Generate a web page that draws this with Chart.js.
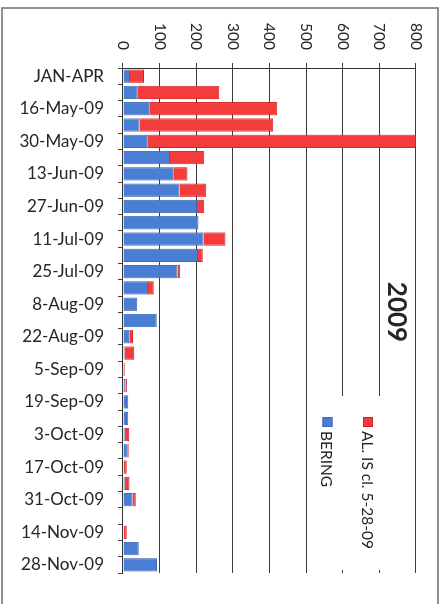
<!DOCTYPE html>
<html>
<head>
<meta charset="utf-8">
<title>2009</title>
<script src="https://cdn.jsdelivr.net/npm/chart.js@4/dist/chart.umd.min.js"></script>
<style>
  html, body { margin: 0; padding: 0; background: #ffffff; overflow: hidden; }
  body { width: 444px; height: 604px; position: relative; }
  /* the column chart is laid out on its side: a 604x444 canvas turned a quarter turn clockwise */
  #chart {
    position: absolute; left: 0; top: 0;
    width: 604px; height: 444px;
    transform-origin: 0 0;
    transform: translate(444px, 0) rotate(90deg);
  }
</style>
</head>
<body>
<canvas id="chart" width="604" height="444"></canvas>
<script>
// weekly periods, 2009
const categories = [
  'JAN-APR', '9-May-09', '16-May-09', '23-May-09', '30-May-09', '6-Jun-09',
  '13-Jun-09', '20-Jun-09', '27-Jun-09', '4-Jul-09', '11-Jul-09', '18-Jul-09',
  '25-Jul-09', '1-Aug-09', '8-Aug-09', '15-Aug-09', '22-Aug-09', '29-Aug-09',
  '5-Sep-09', '12-Sep-09', '19-Sep-09', '26-Sep-09', '3-Oct-09', '10-Oct-09',
  '17-Oct-09', '24-Oct-09', '31-Oct-09', '7-Nov-09', '14-Nov-09', '21-Nov-09',
  '28-Nov-09'
];

const beringCounts = [
  19, 40, 72, 45, 66, 128,
  137, 154, 202, 206, 220, 205,
  149, 68, 39, 92, 17, 4,
  0, 7, 11, 11, 5, 13,
  2, 5, 26, 0, 2, 43,
  93
];

const alIsClosedCounts = [
  38, 223, 349, 365, 734, 94,
  39, 73, 20, 0, 60, 13,
  7, 16, 0, 0, 10, 27,
  5, 4, 3, 3, 12, 3,
  8, 13, 9, 0, 8, 0,
  0
];

const seriesNames = ['BERING', 'AL. IS cl. 5-28-09'];
const chartTitle = '2009';
const valueMax = 800;
const valueStep = 100;

const BLUE = '#4a7ed5';
const BLUE_EDGE = '#3b68b9';
const RED = '#f43c3c';
const RED_EDGE = '#d21f1f';
const INK = '#262626';

// frame, title and legend box drawn over the plot
const decorations = {
  id: 'decorations',
  afterDraw(chart) {
    const ctx = chart.ctx;
    ctx.save();

    // outer frame
    ctx.strokeStyle = '#6e6e6e';
    ctx.lineWidth = 1.5;
    ctx.strokeRect(8, 6, 620, 436);

    // title
    ctx.fillStyle = INK;
    ctx.font = 'bold 26px Lato, "Open Sans", sans-serif';
    ctx.textAlign = 'center';
    ctx.textBaseline = 'middle';
    ctx.fillText(chartTitle, 312, 48);

    // legend box
    ctx.fillStyle = '#ffffff';
    ctx.fillRect(396, 52, 174, 82);

    const entries = [
      { text: chart.data.datasets[1].label, fill: RED, edge: RED_EDGE, v: 76 },
      { text: chart.data.datasets[0].label, fill: BLUE, edge: BLUE_EDGE, v: 116.5 }
    ];
    ctx.font = '15.5px Lato, "Open Sans", sans-serif';
    ctx.textAlign = 'left';
    entries.forEach(e => {
      ctx.fillStyle = e.fill;
      ctx.fillRect(417, e.v - 5, 10, 10);
      ctx.strokeStyle = e.edge;
      ctx.lineWidth = 1;
      ctx.strokeRect(417.5, e.v - 4.5, 9, 9);
      ctx.fillStyle = INK;
      ctx.fillText(e.text, 431, e.v + 1);
    });

    ctx.restore();
  }
};

new Chart(document.getElementById('chart'), {
  type: 'bar',
  data: {
    labels: categories,
    datasets: [
      {
        label: seriesNames[0],
        data: beringCounts,
        backgroundColor: BLUE,
        borderColor: BLUE_EDGE,
        borderWidth: 1,
        barPercentage: 0.82,
        categoryPercentage: 1
      },
      {
        label: seriesNames[1],
        data: alIsClosedCounts,
        backgroundColor: RED,
        borderColor: RED_EDGE,
        borderWidth: 1,
        barPercentage: 0.82,
        categoryPercentage: 1
      }
    ]
  },
  options: {
    responsive: false,
    animation: false,
    devicePixelRatio: 1,
    layout: { padding: { left: 0, top: 28, right: 31, bottom: 0 } },
    plugins: {
      legend: { display: false },
      title: { display: false },
      tooltip: { enabled: false }
    },
    scales: {
      x: {
        stacked: true,
        grid: {
          offset: true,
          drawOnChartArea: false,
          drawTicks: true,
          tickLength: 5,
          color: '#444444'
        },
        border: { display: true, color: '#333333', width: 1 },
        ticks: {
          autoSkip: false,
          minRotation: 90,
          maxRotation: 90,
          padding: 14,
          color: INK,
          font: { family: 'Lato', size: 17 },
          callback: (value, index) => (index % 2 === 0 ? categories[index] : '')
        },
        afterFit: scale => { scale.height = 123; }
      },
      y: {
        stacked: true,
        min: 0,
        max: valueMax,
        grid: {
          color: '#3c3c3c',
          lineWidth: 1,
          drawTicks: true,
          tickLength: 5
        },
        border: { display: true, color: '#333333', width: 1 },
        ticks: {
          stepSize: valueStep,
          padding: 13,
          color: INK,
          font: { family: 'Lato', size: 15.5 }
        },
        afterFit: scale => { scale.width = 68; }
      }
    }
  },
  plugins: [decorations]
});
</script>
</body>
</html>
